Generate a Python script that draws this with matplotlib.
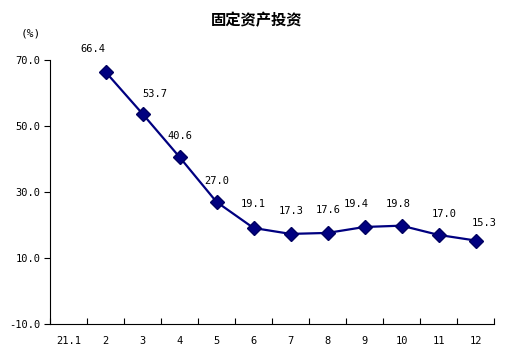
import numpy as np
import matplotlib
matplotlib.use("Agg")
import matplotlib.pyplot as plt

plt.rcParams['font.family'] = ['DejaVu Sans Mono', 'Noto Sans CJK SC']

# 数据
categories = ['21.1', '2', '3', '4', '5', '6', '7', '8', '9', '10', '11', '12']
values = [None, 66.4, 53.7, 40.6, 27.0, 19.1, 17.3, 17.6, 19.4, 19.8, 17.0, 15.3]
y_ticks = [-10, 10, 30, 50, 70]

# 标签偏移 (像素)
offsets = [None, (-13, 23), (12, 20), (0, 21), (0, 21), (0, 24), (1, 23), (1, 23),
           (-8, 23), (-3, 22), (6, 21), (9, 18)]

fig = plt.figure(figsize=(5.14, 3.58), dpi=100)
ax = fig.add_axes([50/514, 1-324/358, 444/514, 264/358])

x = np.arange(len(categories))
xs = [i for i, v in zip(x, values) if v is not None]
ys = [v for v in values if v is not None]
ax.plot(xs, ys, color='#000080', lw=1.6, marker='D', ms=7,
        markerfacecolor='#000080', markeredgecolor='#000060', zorder=3)

for i, v in zip(x, values):
    if v is None:
        continue
    dx, dy = offsets[i]
    ax.annotate(f'{v:.1f}', (i, v), xytext=(dx * 0.72, dy * 0.72),
                textcoords='offset points', ha='center', va='center', fontsize=7.5)

ax.set_xlim(-0.5, len(categories) - 0.5)
ax.set_ylim(-10, 70)
ax.set_yticks(y_ticks)
ax.set_yticklabels([f'{t:.1f}' for t in y_ticks], fontsize=7.5)
ax.set_xticks(x)
ax.set_xticklabels(categories, fontsize=7.5)
ax.set_xticks(np.arange(-0.5, len(categories)), minor=True)
ax.tick_params(axis='x', which='major', length=0, pad=9)
ax.tick_params(axis='x', which='minor', direction='in', length=4, width=0.8)
ax.tick_params(axis='y', direction='out', length=4, width=0.8, pad=3)

for s in ['top', 'right']:
    ax.spines[s].set_visible(False)
for s in ['left', 'bottom']:
    ax.spines[s].set_linewidth(0.8)

fig.text(257/514, 1-20/358, '固定资产投资', ha='center', va='center',
         fontsize=11, fontweight='bold', family=['Noto Sans CJK SC'])
fig.text(31/514, 1-33/358, '(%)', ha='center', va='center', fontsize=8)

fig.savefig('out.png', dpi=100)
